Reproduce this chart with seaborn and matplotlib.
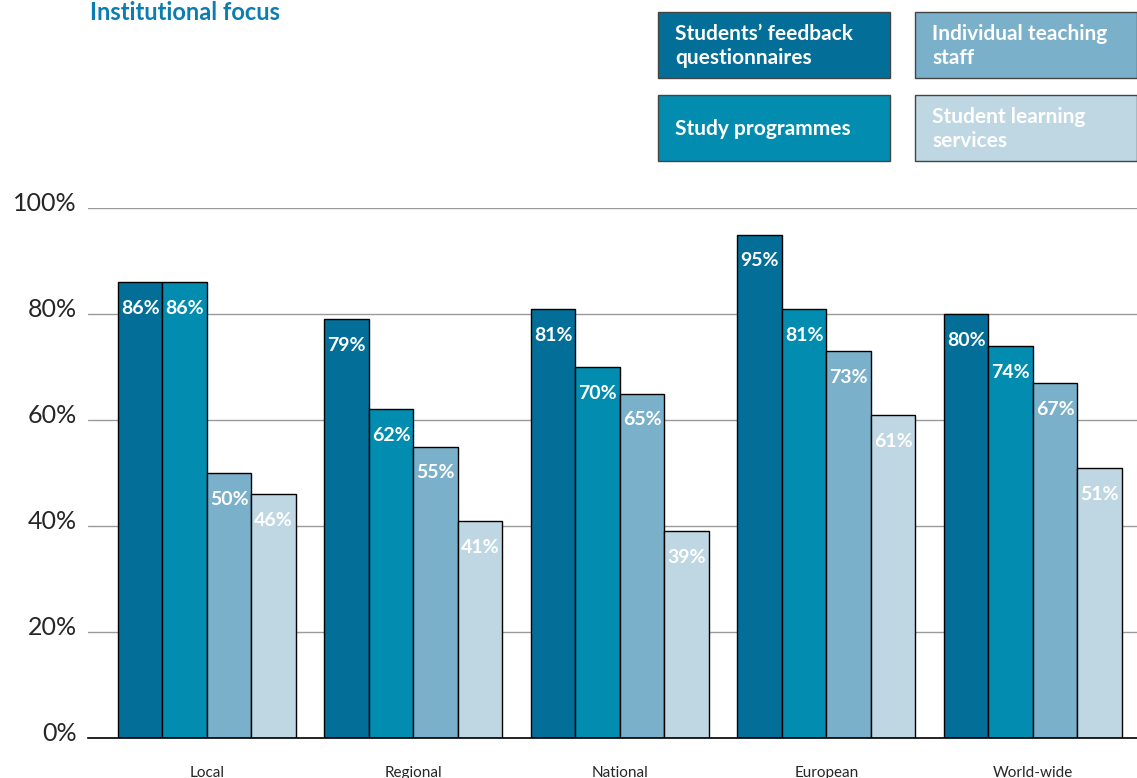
import matplotlib
matplotlib.use("Agg")
import matplotlib.pyplot as plt
from matplotlib.patches import Rectangle
from matplotlib.transforms import ScaledTranslation
import pandas as pd
import seaborn as sns

regions = ["Local", "Regional", "National", "European", "World-wide"]
series = [
    "Students\u2019 feedback\nquestionnaires",
    "Study programmes",
    "Individual teaching\nstaff",
    "Student learning\nservices",
]
feedback = [86, 79, 81, 95, 80]
programmes = [86, 62, 70, 81, 74]
teaching = [50, 55, 65, 73, 67]
services = [46, 41, 39, 61, 51]
colors = ["#036f99", "#028db0", "#7ab0ca", "#bfd7e3"]

rows = []
for name, vals in zip(series, [feedback, programmes, teaching, services]):
    for reg, v in zip(regions, vals):
        rows.append({"region": reg, "series": name, "value": v})
df = pd.DataFrame(rows)

sns.set_style("white")
plt.rcParams["font.family"] = ["Lato", "DejaVu Sans"]

W, H = 1137, 778
fig = plt.figure(figsize=(W / 100, H / 100), dpi=100)
ax = fig.add_axes([88 / W, 1 - 738 / H, 1 - 88 / W, (738 - 208) / H])

sns.barplot(
    data=df, x="region", y="value", hue="series", palette=colors,
    saturation=1, width=0.862, edgecolor="black", linewidth=1, gap=0,
    legend=False, ax=ax,
)

ax.set_ylim(0, 100)
ax.set_xlim(-0.576, 4.504)
ax.set_yticks([0, 20, 40, 60, 80, 100])
ax.set_yticklabels([f"{t}%" for t in [0, 20, 40, 60, 80, 100]], fontsize=18)
ax.tick_params(axis="y", length=0, pad=8)
ax.tick_params(axis="x", length=0, pad=20, labelsize=11)
# nudge tick labels slightly above their gridline
up = ScaledTranslation(0, 5 / 72, fig.dpi_scale_trans)
for tick in ax.yaxis.get_major_ticks():
    tick.label1.set_transform(tick.label1.get_transform() + up)
ax.yaxis.grid(True, color="#9a9a9a", linewidth=1)
ax.set_axisbelow(True)
for s in ["top", "right", "left"]:
    ax.spines[s].set_visible(False)
ax.spines["bottom"].set_color("black")
ax.spines["bottom"].set_linewidth(1.2)
ax.set_xlabel("")
ax.set_ylabel("")

# value labels inside the top of each bar
for cont in ax.containers:
    for p in cont.patches:
        h = p.get_height()
        ax.annotate(
            f"{h:.0f}%", (p.get_x() + p.get_width() / 2, h),
            xytext=(0, -19), textcoords="offset points",
            ha="center", va="center", color="white",
            fontsize=14, fontweight="bold",
        )

# legend boxes
boxes = [(658, 12), (658, 95), (915, 12), (915, 95)]
for (bx, by), name, c in zip(boxes, series, colors):
    fig.patches.append(Rectangle(
        (bx / W, 1 - (by + 66) / H), min(232, W - bx) / W, 66 / H,
        transform=fig.transFigure, facecolor=c, edgecolor="#444444",
        linewidth=1,
    ))
    fig.text((bx + 17) / W, 1 - (by + 34) / H, name, color="white",
             fontsize=15, fontweight="bold", va="center", ha="left",
             linespacing=1.25)

fig.text(90 / W, 1 - 20 / H, "Institutional focus", color="#0b7db0",
         fontsize=17, fontweight="bold", va="baseline", ha="left")

fig.savefig("out.png", dpi=100)
